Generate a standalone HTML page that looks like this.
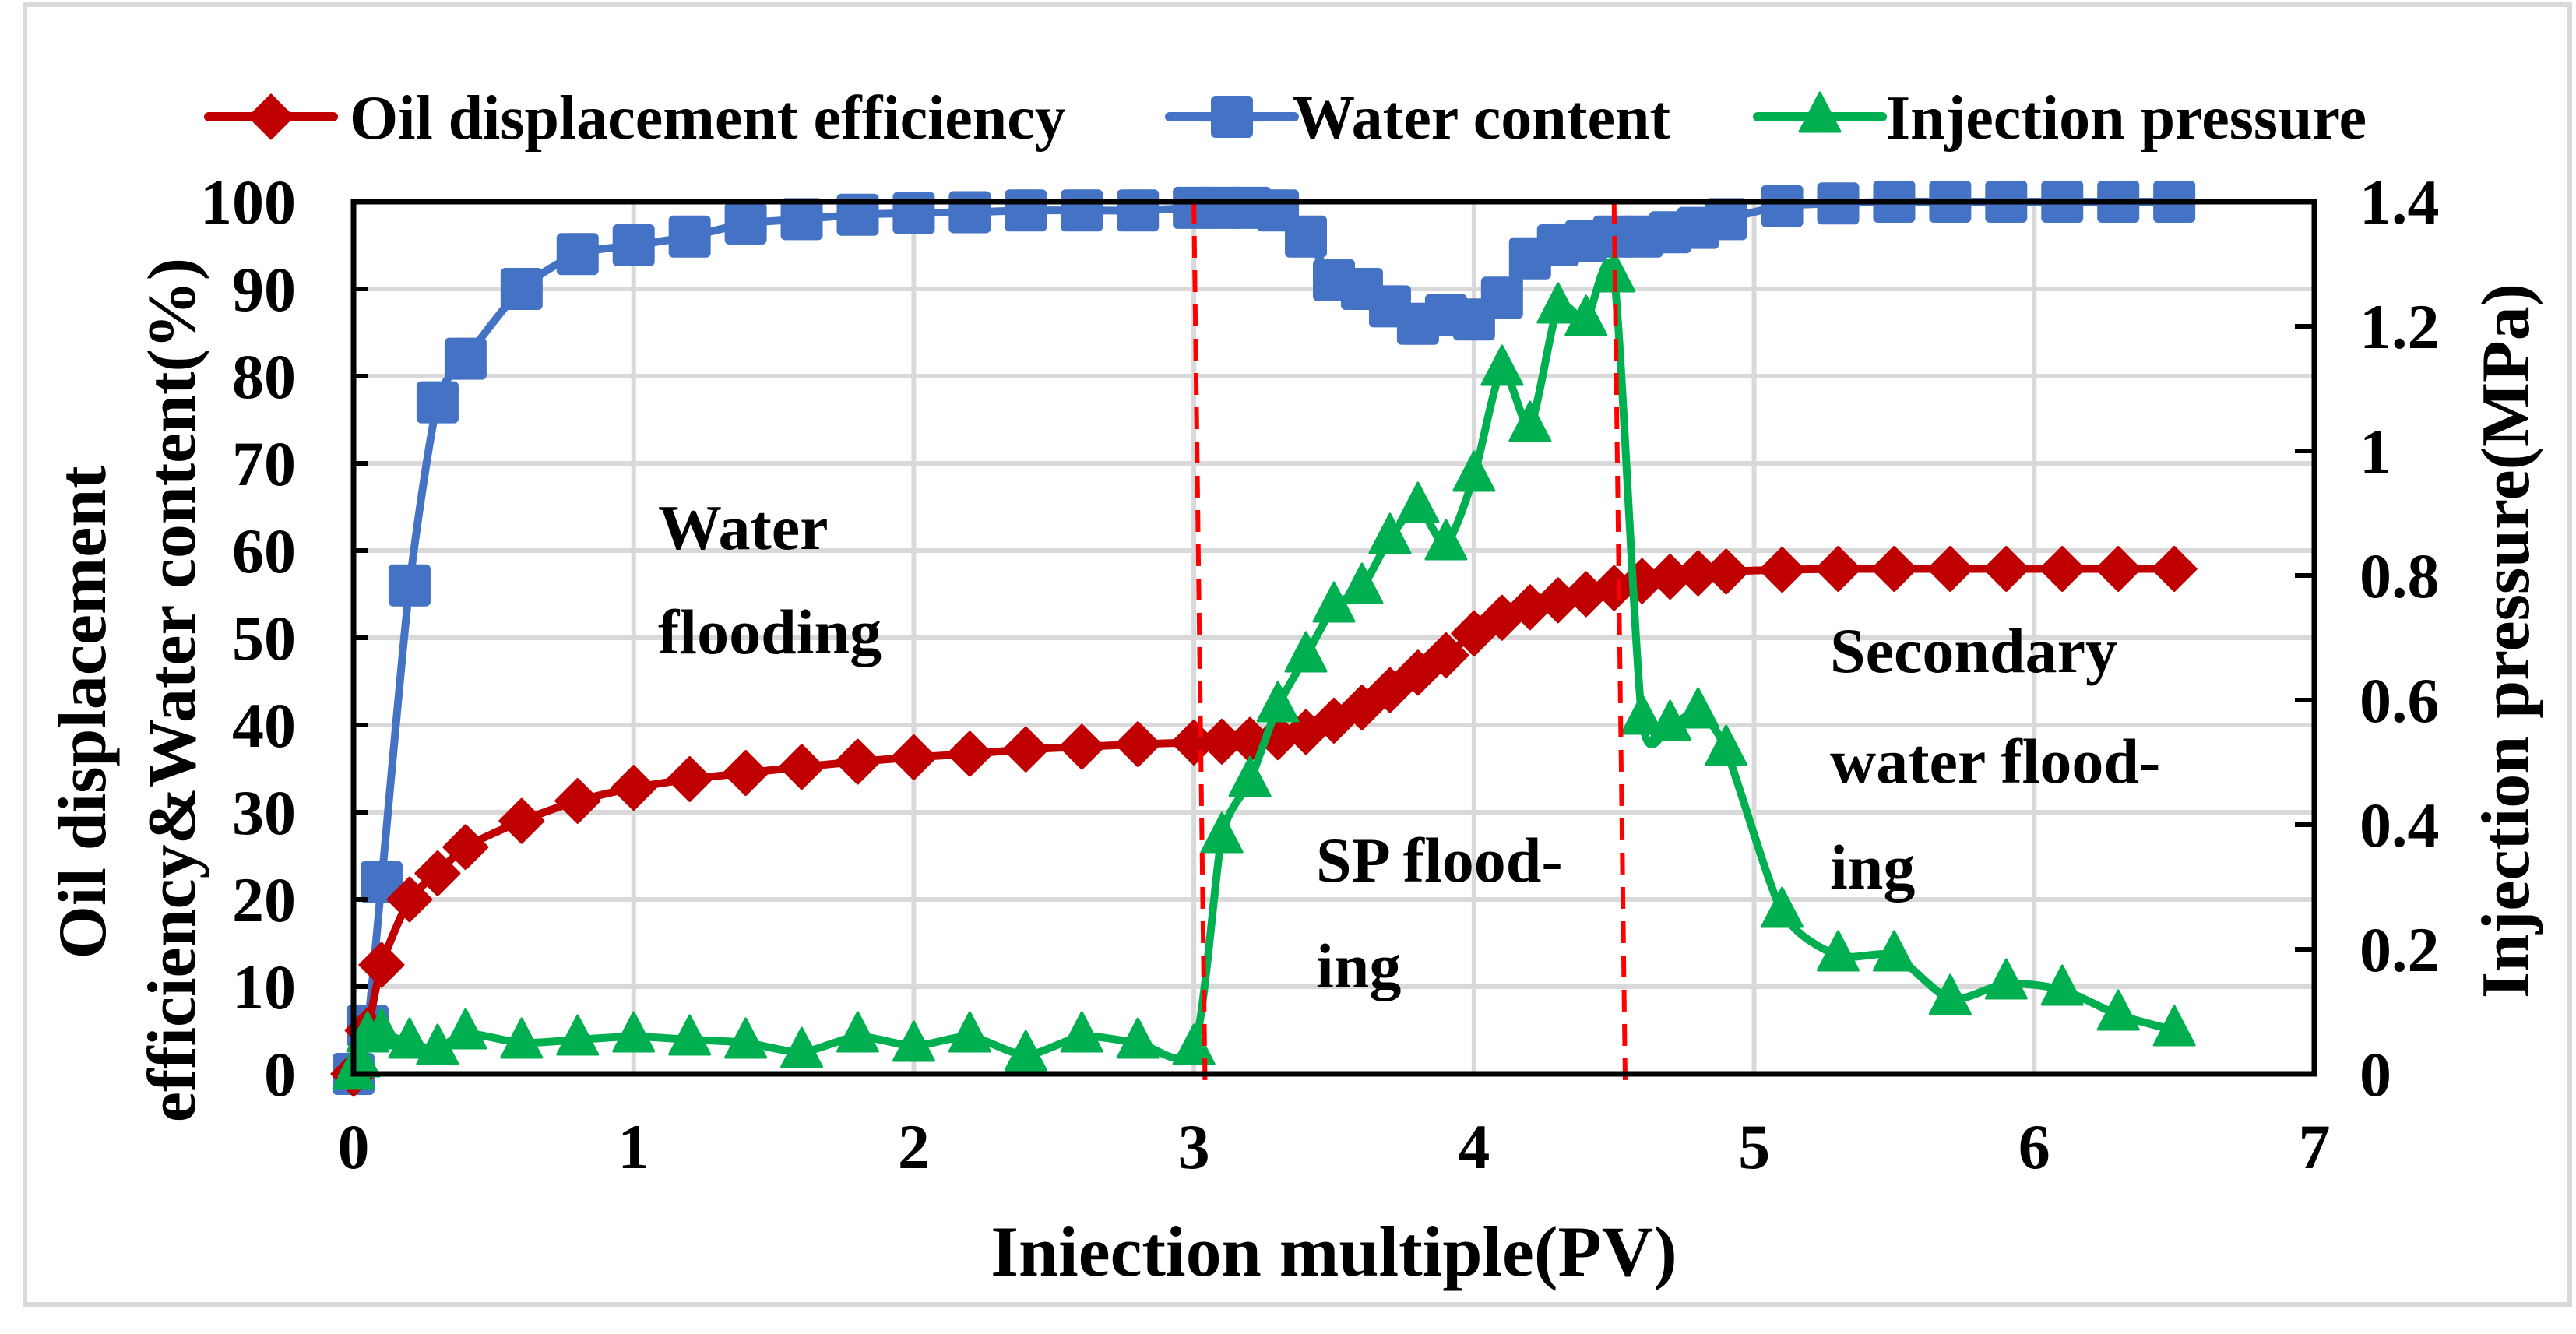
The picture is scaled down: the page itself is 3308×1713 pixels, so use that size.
<!DOCTYPE html>
<html><head><meta charset="utf-8"><style>
html,body{margin:0;padding:0;background:#fff;}
svg, svg text{font-family:"Liberation Serif","Times New Roman","DejaVu Serif",serif;}
svg text{font-weight:bold;fill:#000;}
</style></head><body>
<svg id="chart" width="3308" height="1708" viewBox="0 0 3308 1708" xmlns="http://www.w3.org/2000/svg" font-family="Liberation Serif, serif" font-weight="bold">
<rect x="32" y="6" width="3268" height="1669" fill="#fff" stroke="#d9d9d9" stroke-width="6"/>
<g id="grid"></g>
<g id="series"></g>
<g id="axes"></g>
<g id="legend"></g>
<text x="1713" y="1638" font-size="92" text-anchor="middle">Iniection multiple(PV)</text>
<text transform="translate(135,915) rotate(-90)" font-size="88" text-anchor="middle">Oil displacement</text>
<text transform="translate(250,886) rotate(-90)" font-size="88" text-anchor="middle">efficiency&amp;Water content(%)</text>
<text transform="translate(3247,823) rotate(-90)" font-size="88" text-anchor="middle">Injection pressure(MPa)</text>
<text x="845" y="705" font-size="82">Water</text>
<text x="845" y="839" font-size="82">flooding</text>
<text x="1690" y="1132" font-size="82">SP flood-</text>
<text x="1690" y="1268" font-size="82">ing</text>
<text x="2350" y="863" font-size="82">Secondary</text>
<text x="2350" y="1005" font-size="82">water flood-</text>
<text x="2350" y="1141" font-size="82">ing</text>
</svg>
<script>
const xCats = [0,0.05,0.1,0.2,0.3,0.4,0.6,0.8,1.0,1.2,1.4,1.6,1.8,2.0,2.2,2.4,2.6,2.8,3.0,3.1,3.2,3.3,3.4,3.5,3.6,3.7,3.8,3.9,4.0,4.1,4.2,4.3,4.4,4.5,4.6,4.7,4.8,4.9,5.1,5.3,5.5,5.7,5.9,6.1,6.3,6.5];
const oilEff = [0,5,12.5,20,23,26,29,31.3,32.8,33.8,34.5,35.2,35.8,36.3,36.7,37.2,37.5,37.8,38,38.1,38.3,38.6,39.2,40.5,42,44,46,48,50.5,52.3,53.5,54.3,55,55.7,56.5,57,57.4,57.6,57.8,57.9,57.9,57.9,57.9,57.9,57.9,57.9];
const waterContent = [0,5.5,22,56,77,82,90,94,95,96,97.5,98,98.5,98.7,98.8,99,99,99,99.3,99.3,99.3,99,96,91,90,88,86,87,86.5,89,93.5,95,95.5,96,96,96.5,97,98,99.5,99.8,100,100,100,100,100,100];
const pX = [0,0.02,0.05,0.1,0.2,0.3,0.4,0.6,0.8,1.0,1.2,1.4,1.6,1.8,2.0,2.2,2.4,2.6,2.8,3.0,3.1,3.2,3.3,3.4,3.5,3.6,3.7,3.8,3.9,4.0,4.1,4.2,4.3,4.4,4.5,4.6,4.7,4.8,4.9,5.1,5.3,5.5,5.7,5.9,6.1,6.3,6.5];
const pressure = [0,0.02,0.06,0.065,0.05,0.04,0.065,0.05,0.055,0.06,0.055,0.05,0.035,0.06,0.045,0.06,0.03,0.06,0.05,0.04,0.38,0.47,0.59,0.67,0.75,0.78,0.86,0.91,0.85,0.96,1.13,1.04,1.23,1.21,1.28,0.57,0.56,0.58,0.52,0.26,0.19,0.19,0.12,0.145,0.135,0.095,0.07];
const xTicks = [0,1,2,3,4,5,6,7];
const yTicks = [0,10,20,30,40,50,60,70,80,90,100];
const y2Ticks = [0,0.2,0.4,0.6,0.8,1,1.2,1.4];
const y2Labels = ["0","0.2","0.4","0.6","0.8","1","1.2","1.4"];
const phaseLines = [[3.0,3.04],[4.5,4.54]];

const L=454,R=2972,T=259,B=1379;
const xs=v=>L+(R-L)*v/7;
const ys=v=>B-(B-T)*v/100;
const y2s=v=>B-(B-T)*v/1.4;
const NS="http://www.w3.org/2000/svg";
function mk(tag,attrs,parent){const e=document.createElementNS(NS,tag);for(const k in attrs)e.setAttribute(k,attrs[k]);parent.appendChild(e);return e;}
const grid=document.getElementById('grid'),axes=document.getElementById('axes'),ser=document.getElementById('series'),leg=document.getElementById('legend');

yTicks.forEach(v=>{if(v>0){const l=mk('line',{x1:L,x2:R,y1:ys(v),y2:ys(v),stroke:'#d9d9d9','stroke-width':6},grid);

}
const t=mk('text',{x:380,y:ys(v)+28,'font-size':82,'text-anchor':'end'},axes);t.textContent=v;


const tk=mk('line',{x1:L,x2:L+18,y1:ys(v),y2:ys(v),stroke:'#000','stroke-width':6},axes);

});
xTicks.forEach(v=>{if(v>0&&v<7){const l=mk('line',{x1:xs(v),x2:xs(v),y1:T,y2:B,stroke:'#d9d9d9','stroke-width':6},grid);

}
const t=mk('text',{x:xs(v),y:1500,'font-size':82,'text-anchor':'middle'},axes);t.textContent=v;

});
y2Ticks.forEach((v,i)=>{const t=mk('text',{x:3030,y:y2s(v)+28,'font-size':82},axes);t.textContent=y2Labels[i];


const tk=mk('line',{x1:R-25,x2:R,y1:y2s(v),y2:y2s(v),stroke:'#000','stroke-width':6},axes);

});
const frame=mk('rect',{x:L,y:T,width:R-L,height:B-T,fill:'none',stroke:'#000','stroke-width':7},axes);



function smooth(pts){let d=`M${pts[0][0]},${pts[0][1]}`;for(let i=0;i<pts.length-1;i++){const p0=pts[i-1]||pts[i],p1=pts[i],p2=pts[i+1],p3=pts[i+2]||p2;const t=0.12;
d+=` C${p1[0]+(p2[0]-p0[0])*t},${p1[1]+(p2[1]-p0[1])*t} ${p2[0]-(p3[0]-p1[0])*t},${p2[1]-(p3[1]-p1[1])*t} ${p2[0]},${p2[1]}`;}return d;}
function marker(type,x,y,color,parent){let e;
if(type==='diamond')e=mk('polygon',{points:`${x},${y-28} ${x+28},${y} ${x},${y+28} ${x-28},${y}`,fill:color,stroke:color,'stroke-width':3,'stroke-linejoin':'round'},parent);
else if(type==='square')e=mk('rect',{x:x-27,y:y-27,width:54,height:54,rx:6,fill:color},parent);
else e=mk('polygon',{points:`${x},${y-31} ${x+26},${y+19} ${x-26},${y+19}`,fill:color,stroke:color,'stroke-width':3,'stroke-linejoin':'round'},parent);return e;}
function drawSeries(xv,yv,scale,color,type,name){const g=mk('g',{},ser);


const pts=xv.map((x,i)=>[xs(x),scale(yv[i])]);
const p=mk('path',{d:smooth(pts),fill:'none',stroke:color,'stroke-width':10,'stroke-linejoin':'round'},g);


pts.forEach(q=>{const m=marker(type,q[0],q[1],color,g);

});}
drawSeries(xCats,waterContent,ys,'#4472c4','square','water-content');
drawSeries(xCats,oilEff,ys,'#c00000','diamond','oil-efficiency');
drawSeries(pX,pressure,y2s,'#00b050','triangle','injection-pressure');
phaseLines.forEach(pl=>{const l=mk('line',{x1:xs(pl[0]),y1:T,x2:xs(pl[1]),y2:1395,stroke:'#ff0000','stroke-width':6,'stroke-dasharray':'28 16'},ser);

});

const legItems=[['Oil displacement efficiency','#c00000','diamond',268,449],['Water content','#4472c4','square',1502,1660],['Injection pressure','#00b050','triangle',2257,2422]];
legItems.forEach(it=>{const g=mk('g',{},leg);


mk('line',{x1:it[3],x2:it[3]+160,y1:150,y2:150,stroke:it[1],'stroke-width':12,'stroke-linecap':'round'},g);
marker(it[2],it[3]+80,150,it[1],g);
const t=mk('text',{x:it[4],y:178,'font-size':80},g);t.textContent=it[0];});
</script>
</body></html>
